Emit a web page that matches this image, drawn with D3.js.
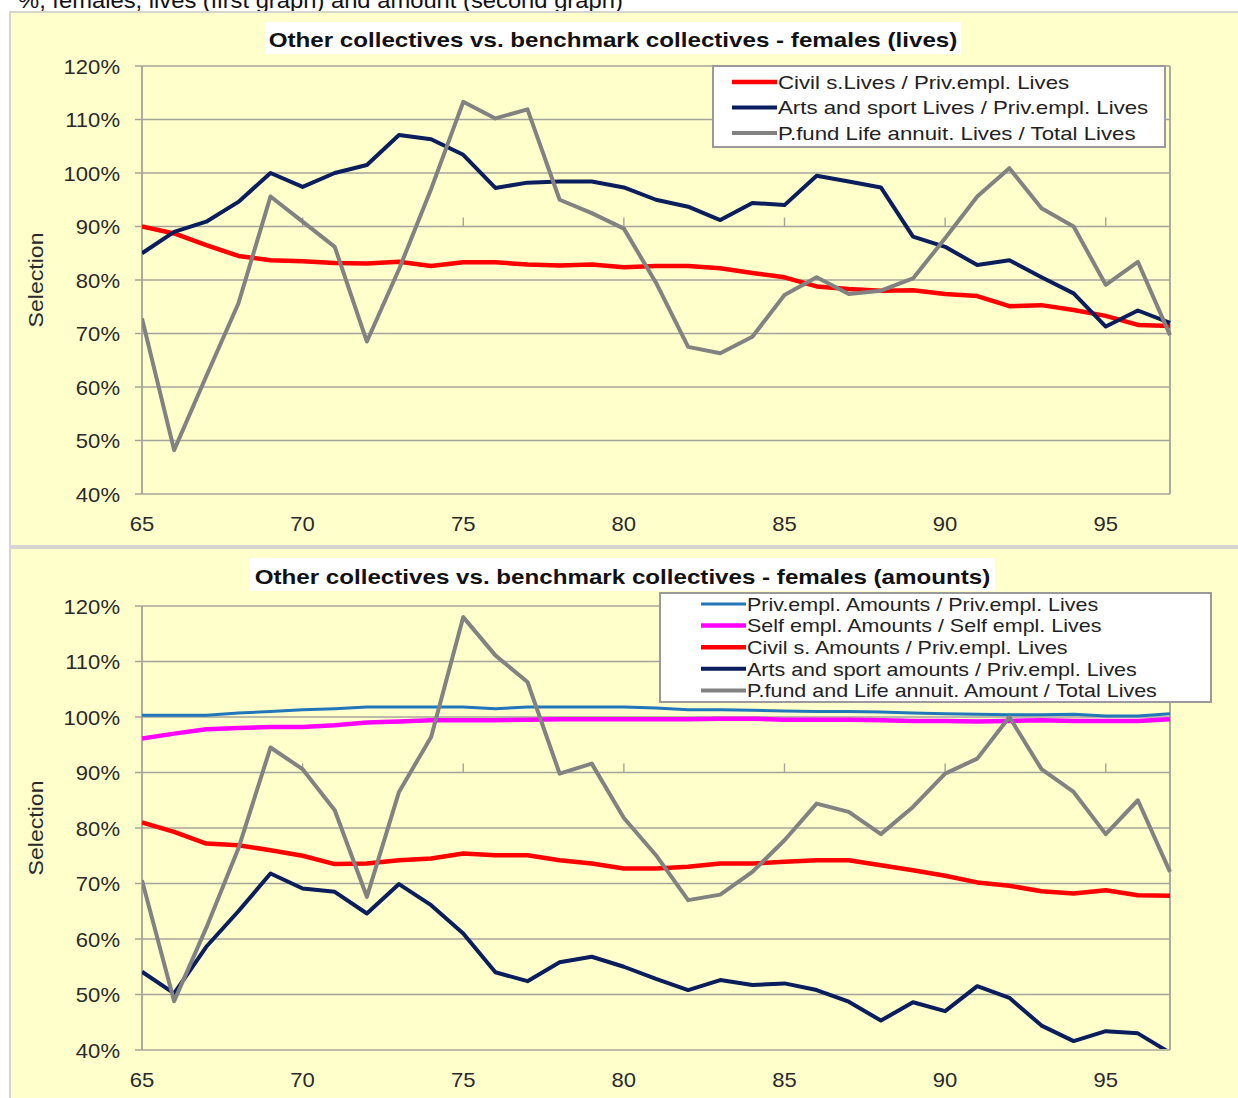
<!DOCTYPE html>
<html>
<head>
<meta charset="utf-8">
<script src="https://cdn.jsdelivr.net/npm/d3@7/dist/d3.min.js"></script>
<style>
  body { margin: 0; background: #fff; }
  svg { display: block; font-family: "Liberation Sans", Arial, sans-serif; }
</style>
</head>
<body>
<div id="chart"></div>
<script>
// ages on the x axis
var ages = [65, 66, 67, 68, 69, 70, 71, 72, 73, 74, 75, 76, 77, 78, 79, 80, 81,
            82, 83, 84, 85, 86, 87, 88, 89, 90, 91, 92, 93, 94, 95, 96, 97];
var xTicks = [65, 70, 75, 80, 85, 90, 95];
var yTicks = [40, 50, 60, 70, 80, 90, 100, 110, 120];

// first graph - lives (%)
var civilLives = [90, 88.7, 86.5, 84.5, 83.7, 83.5, 83.2, 83.1, 83.4, 82.6, 83.3, 83.3, 82.9, 82.7, 82.9, 82.4, 82.6,
                  82.6, 82.2, 81.3, 80.5, 78.8, 78.3, 78, 78.1, 77.4, 77, 75.1, 75.3, 74.4, 73.3, 71.6, 71.4];
var artsLives = [85, 89, 90.9, 94.6, 100, 97.4, 100, 101.5, 107.1, 106.3, 103.4, 97.2, 98.2, 98.4, 98.4, 97.3, 95,
                 93.7, 91.2, 94.4, 94, 99.5, 98.4, 97.3, 88.1, 86.2, 82.8, 83.7, 80.5, 77.5, 71.3, 74.3, 72];
var pfundLives = [72.8, 48.2, 62, 75.6, 95.6, 90.9, 86.2, 68.5, 82, 97, 113.3, 110.2, 111.9, 95, 92.5, 89.6, 79.5,
                  67.5, 66.3, 69.4, 77.2, 80.5, 77.4, 78, 80.3, 87.8, 95.6, 100.9, 93.4, 90, 79.1, 83.4, 69.7];

// second graph - amounts (%)
var privAmounts = [100.3, 100.3, 100.3, 100.7, 101, 101.3, 101.5, 101.8, 101.8, 101.8, 101.8, 101.5, 101.8, 101.8, 101.8, 101.8, 101.6,
                   101.3, 101.3, 101.2, 101.1, 101, 101, 100.9, 100.7, 100.6, 100.5, 100.4, 100.4, 100.5, 100.2, 100.2, 100.6];
var selfAmounts = [96.1, 97, 97.8, 98, 98.2, 98.2, 98.5, 99, 99.2, 99.4, 99.4, 99.4, 99.5, 99.6, 99.6, 99.6, 99.6,
                   99.6, 99.7, 99.7, 99.5, 99.5, 99.5, 99.4, 99.3, 99.3, 99.2, 99.3, 99.4, 99.3, 99.3, 99.3, 99.6];
var civilAmounts = [81, 79.3, 77.2, 76.9, 76, 75, 73.5, 73.6, 74.2, 74.5, 75.4, 75.1, 75.1, 74.2, 73.6, 72.7, 72.7,
                    73, 73.6, 73.6, 73.9, 74.2, 74.2, 73.3, 72.4, 71.4, 70.2, 69.6, 68.6, 68.2, 68.8, 67.9, 67.8];
var artsAmounts = [54.1, 50.2, 58.6, 65, 71.8, 69.1, 68.5, 64.6, 69.9, 66.1, 61, 54, 52.4, 55.8, 56.8, 55, 52.8,
                   50.8, 52.6, 51.7, 52, 50.8, 48.7, 45.3, 48.6, 47, 51.5, 49.4, 44.4, 41.6, 43.4, 43, 39.5];
var pfundAmounts = [70.6, 48.8, 62, 76.3, 94.5, 90.6, 83.2, 67.6, 86.5, 96.4, 118, 111.1, 106.3, 89.8, 91.6, 81.8, 75.1,
                    67, 68, 72.1, 77.8, 84.4, 82.9, 78.9, 83.8, 89.8, 92.5, 100, 90.6, 86.5, 78.9, 85, 72.1];

var W = 1238, H = 1098;

var svg = d3.select("#chart").append("svg")
    .attr("width", W)
    .attr("height", H);

// stretch text horizontally a bit (the source picture is wider than normal)
function stretch(sel, k) {
    sel.each(function() {
        var len = this.getComputedTextLength();
        d3.select(this).attr("textLength", len * k).attr("lengthAdjust", "spacingAndGlyphs");
    });
}

// header line, cut off at the top of the picture
svg.append("text")
    .attr("x", 18)
    .attr("y", 8)
    .style("font-size", "22px")
    .style("fill", "#111")
    .text("%, females, lives (first graph) and amount (second graph)")
    .call(stretch, 1.08);

var x = d3.scaleLinear().domain([65, 97]).range([142, 1170]);

function drawPanel(cfg) {
    var y = d3.scaleLinear().domain([40, 120]).range([cfg.bottom, cfg.top]);
    var g = svg.append("g");

    // panel background
    g.append("rect")
        .attr("x", 10).attr("y", cfg.panelTop)
        .attr("width", W).attr("height", cfg.panelH)
        .style("fill", "#ffffcc")
        .style("stroke", "#d6d6d0")
        .style("stroke-width", 2);

    // horizontal grid lines
    g.selectAll(".grid")
        .data(yTicks)
        .enter().append("line")
        .attr("x1", 135).attr("x2", 1170)
        .attr("y1", function(d) { return y(d); })
        .attr("y2", function(d) { return y(d); })
        .style("stroke", "#a4a49a")
        .style("stroke-width", 1.6);

    // left and right borders
    g.append("line")
        .attr("x1", 142).attr("x2", 142)
        .attr("y1", y(120)).attr("y2", y(40))
        .style("stroke", "#a4a49a").style("stroke-width", 1.8);
    g.append("line")
        .attr("x1", 1170).attr("x2", 1170)
        .attr("y1", y(120)).attr("y2", y(40))
        .style("stroke", "#a4a49a").style("stroke-width", 1.8);

    // little tick marks sitting on the 90% line
    g.selectAll(".mtick")
        .data(xTicks.slice(1))
        .enter().append("line")
        .attr("x1", function(d) { return x(d); })
        .attr("x2", function(d) { return x(d); })
        .attr("y1", y(90) - 9).attr("y2", y(90))
        .style("stroke", "#a4a49a").style("stroke-width", 1.4);

    // y tick labels
    g.selectAll(".ylab")
        .data(yTicks)
        .enter().append("text")
        .attr("x", 120)
        .attr("y", function(d) { return y(d); })
        .attr("dy", "0.36em")
        .attr("text-anchor", "end")
        .style("font-size", "21px")
        .style("fill", "#2a2a2a")
        .text(function(d) { return d + "%"; })
        .call(stretch, 1.05);

    // x tick labels
    g.selectAll(".xlab")
        .data(xTicks)
        .enter().append("text")
        .attr("x", function(d) { return x(d); })
        .attr("y", cfg.bottom + 29)
        .attr("dy", "0.36em")
        .attr("text-anchor", "middle")
        .style("font-size", "21px")
        .style("fill", "#2a2a2a")
        .text(function(d) { return d; })
        .call(stretch, 1.05);

    // y axis title
    g.append("text")
        .attr("transform", "translate(43," + ((cfg.top + cfg.bottom) / 2) + ") rotate(-90)")
        .attr("text-anchor", "middle")
        .style("font-size", "21px")
        .style("fill", "#2a2a2a")
        .text("Selection")
        .call(stretch, 1.1);

    // lines
    var clipId = "clip" + cfg.top;
    g.append("clipPath").attr("id", clipId)
        .append("rect")
        .attr("x", 142).attr("y", cfg.top - 2)
        .attr("width", 1030).attr("height", cfg.bottom - cfg.top + 1);

    var line = d3.line()
        .x(function(d, i) { return x(ages[i]); })
        .y(function(d) { return y(d); });

    g.append("g").attr("clip-path", "url(#" + clipId + ")")
        .selectAll("path")
        .data(cfg.series)
        .enter().append("path")
        .attr("d", function(s) { return line(s.values); })
        .style("fill", "none")
        .style("stroke", function(s) { return s.color; })
        .style("stroke-width", function(s) { return s.width; })
        .style("stroke-linejoin", "round");

    // title with white box
    var tb = cfg.titleBox;
    g.append("rect")
        .attr("x", tb[0]).attr("y", tb[1])
        .attr("width", tb[2] - tb[0]).attr("height", tb[3] - tb[1])
        .style("fill", "#fff");
    g.append("text")
        .attr("x", (tb[0] + tb[2]) / 2)
        .attr("y", tb[3] - 7)
        .attr("text-anchor", "middle")
        .style("font-size", "21px")
        .style("font-weight", "bold")
        .style("fill", "#111")
        .text(cfg.title)
        .call(stretch, 1.15);

    // legend
    var lb = cfg.legendBox;
    g.append("rect")
        .attr("x", lb[0]).attr("y", lb[1])
        .attr("width", lb[2] - lb[0]).attr("height", lb[3] - lb[1])
        .style("fill", "#fff")
        .style("stroke", "#9a9a9a")
        .style("stroke-width", 2);

    var items = g.selectAll(".leg")
        .data(cfg.series)
        .enter().append("g")
        .attr("transform", function(s, i) {
            return "translate(" + cfg.legendX + "," + (cfg.legendY + i * cfg.legendStep) + ")";
        });
    items.append("line")
        .attr("x1", 0).attr("x2", 45)
        .style("stroke", function(s) { return s.color; })
        .style("stroke-width", function(s) { return s.width; });
    items.append("text")
        .attr("x", 46)
        .attr("dy", "0.36em")
        .style("font-size", cfg.legendFont + "px")
        .style("fill", "#222")
        .text(function(s) { return s.name; })
        .call(stretch, cfg.legendStretch);
}

drawPanel({
    panelTop: 12, panelH: 534,
    top: 66, bottom: 494,
    title: "Other collectives vs. benchmark collectives - females (lives)",
    titleBox: [265, 22, 961, 54],
    legendBox: [713, 66, 1165, 147],
    legendX: 732, legendY: 82, legendStep: 25.5,
    legendFont: 19, legendStretch: 1.17,
    series: [
        {name: "Civil s.Lives / Priv.empl. Lives", values: civilLives, color: "#ff0000", width: 4.5},
        {name: "Arts and sport Lives / Priv.empl. Lives", values: artsLives, color: "#0a1d5c", width: 4},
        {name: "P.fund Life annuit. Lives / Total Lives", values: pfundLives, color: "#828282", width: 4}
    ]
});

drawPanel({
    panelTop: 548, panelH: 560,
    top: 606, bottom: 1050,
    title: "Other collectives vs. benchmark collectives - females (amounts)",
    titleBox: [250, 558, 995, 591],
    legendBox: [660, 593, 1211, 702],
    legendX: 701, legendY: 604, legendStep: 21.6,
    legendFont: 19, legendStretch: 1.13,
    series: [
        {name: "Priv.empl. Amounts / Priv.empl. Lives", values: privAmounts, color: "#2277bb", width: 3},
        {name: "Self empl. Amounts / Self empl. Lives", values: selfAmounts, color: "#ff00ff", width: 4.5},
        {name: "Civil s. Amounts / Priv.empl. Lives", values: civilAmounts, color: "#ff0000", width: 4.5},
        {name: "Arts and sport amounts / Priv.empl. Lives", values: artsAmounts, color: "#0a1d5c", width: 4},
        {name: "P.fund and Life annuit. Amount / Total Lives", values: pfundAmounts, color: "#828282", width: 4}
    ]
});
</script>
</body>
</html>
